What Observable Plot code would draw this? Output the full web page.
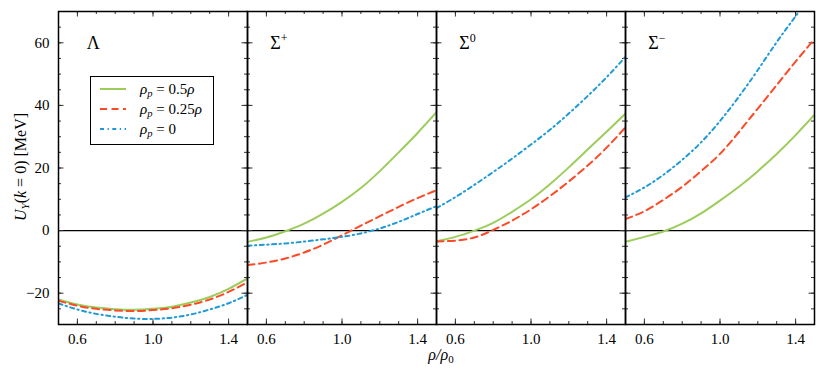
<!DOCTYPE html>
<html>
<head>
<meta charset="utf-8">
<script src="https://cdn.jsdelivr.net/npm/d3@7"></script>
<script src="https://cdn.jsdelivr.net/npm/@observablehq/plot@0.6"></script>
<style>
  body { margin: 0; background: #fff; }
  #wrap { position: relative; width: 830px; height: 369px; font-family: 'Liberation Serif'; }
  #wrap svg text { font-family: 'Liberation Serif' !important; }
  #legend { position: absolute; left: 90px; top: 76px; width: 122px; height: 67px; border: 1.3px solid #000; background: #fff; font-family: 'Liberation Serif'; }
  #legend .row { position: absolute; left: 0; height: 20px; font-size: 15px; line-height: 20px; }
  #legend svg { position: absolute; left: 9px; top: 0; }
  #legend span { position: absolute; left: 49px; white-space: nowrap; }
  sub { font-size: 70%; vertical-align: -3px; line-height: 0; }
</style>
</head>
<body>
<div id="wrap"></div>
<script>
// ---- data ----
const xs = [0.5, 0.6, 0.7, 0.8, 0.9, 1.0, 1.1, 1.2, 1.3, 1.4, 1.5];
const panels = ["Λ", "Σ+", "Σ0", "Σ−"];
const seriesNames = ["0.5", "0.25", "0"];

const lambdaHalf    = [-22.0, -23.6, -24.6, -25.1, -25.3, -25.0, -24.3, -23.0, -21.2, -18.6, -15.3];
const lambdaQuarter = [-22.4, -24.0, -25.0, -25.5, -25.7, -25.4, -24.8, -23.7, -22.0, -19.6, -16.5];
const lambdaZero    = [-23.3, -25.2, -26.6, -27.5, -28.1, -28.2, -27.8, -26.8, -25.2, -23.2, -20.5];

const sigPlusHalf    = [-3.6, -2.2, -0.2, 2.2, 5.4, 9.2, 13.6, 19.0, 25.0, 31.2, 37.8];
const sigPlusQuarter = [-11.0, -10.2, -8.9, -7.0, -4.5, -1.5, 1.6, 4.6, 7.6, 10.4, 12.9];
const sigPlusZero    = [-4.8, -4.5, -4.1, -3.5, -2.8, -2.0, -0.9, 0.7, 2.8, 5.3, 7.8];

const sigZeroHalf    = [-3.4, -2.0, 0.0, 2.5, 6.0, 10.0, 14.8, 20.2, 25.9, 31.6, 37.4];
const sigZeroQuarter = [-3.5, -3.2, -2.2, 0.2, 3.2, 6.8, 11.0, 15.7, 20.8, 26.5, 33.0];
const sigZeroZero    = [7.2, 10.7, 14.6, 18.7, 23.0, 27.5, 32.2, 37.4, 43.0, 49.0, 55.5];

const sigMinusHalf    = [-3.6, -2.0, -0.3, 2.2, 5.5, 9.6, 14.0, 19.0, 24.5, 30.5, 37.0];
const sigMinusQuarter = [3.7, 6.2, 9.8, 14.0, 19.0, 24.5, 31.5, 39.0, 46.5, 54.0, 61.2];
const sigMinusZero    = [10.6, 13.8, 17.8, 22.6, 28.2, 35.0, 42.8, 51.3, 60.2, 68.5, 77.0];

const xMajor = [0.6, 1.0, 1.4];
const xMinor = [0.5, 0.6, 0.7, 0.8, 0.9, 1.0, 1.1, 1.2, 1.3, 1.4, 1.5];
const yMajor = [-20, 0, 20, 40, 60];
const yMinor = [-30, -25, -20, -15, -10, -5, 0, 5, 10, 15, 20, 25, 30, 35, 40, 45, 50, 55, 60, 65, 70];

const table = [
  [lambdaHalf, lambdaQuarter, lambdaZero],
  [sigPlusHalf, sigPlusQuarter, sigPlusZero],
  [sigZeroHalf, sigZeroQuarter, sigZeroZero],
  [sigMinusHalf, sigMinusQuarter, sigMinusZero]
];
const rows = [];
table.forEach((sets, pi) => sets.forEach((vals, si) => vals.forEach((v, i) =>
  rows.push({panel: panels[pi], series: seriesNames[si], x: xs[i], y: v}))));

const styles = {
  "0.5":  {stroke: "#9ccd5c", dash: null},
  "0.25": {stroke: "#fb4a26", dash: "7,4.5"},
  "0":    {stroke: "#1f9ad6", dash: "4,3.5,1.3,3.5"}
};

const FONT = "Liberation Serif";
const xMin = 0.5, xMax = 1.5, yMin = -30, yMax = 70;
const tkX = (xMax - xMin) / 189, tkY = (yMax - yMin) / 313; // one pixel in data units

const tickColor = "#333";
const marks = [
  Plot.ruleY([0], {stroke: "#000", strokeWidth: 1.3}),
  // minor ticks
  Plot.ruleX(xMinor, {x: d => d, y1: yMin, y2: yMin + 3 * tkY, stroke: tickColor}),
  Plot.ruleX(xMinor, {x: d => d, y1: yMax, y2: yMax - 3 * tkY, stroke: tickColor}),
  Plot.ruleY(yMinor, {y: d => d, x1: xMin, x2: xMin + 3 * tkX, stroke: tickColor}),
  Plot.ruleY(yMinor, {y: d => d, x1: xMax, x2: xMax - 3 * tkX, stroke: tickColor}),
  // major ticks
  Plot.ruleX(xMajor, {x: d => d, y1: yMin, y2: yMin + 5.5 * tkY, stroke: tickColor}),
  Plot.ruleX(xMajor, {x: d => d, y1: yMax, y2: yMax - 5.5 * tkY, stroke: tickColor}),
  Plot.ruleY(yMajor, {y: d => d, x1: xMin, x2: xMin + 5.5 * tkX, stroke: tickColor}),
  Plot.ruleY(yMajor, {y: d => d, x1: xMax, x2: xMax - 5.5 * tkX, stroke: tickColor}),
  ...seriesNames.map(s => Plot.line(rows.filter(d => d.series === s), {
    x: "x", y: "y", fx: "panel", z: "panel",
    stroke: styles[s].stroke, strokeWidth: 2, strokeDasharray: styles[s].dash,
    curve: "natural", clip: true
  })),
  Plot.text(panels, {fx: d => d, x: d => d === "Λ" ? 0.65 : 0.62, y: 60, text: d => d,
    textAnchor: "start", fontSize: 18, fontFamily: FONT, fill: "#000", className: "panel-label"}),
  Plot.frame({stroke: "#000", strokeWidth: 1.5}),
  Plot.axisX(xMajor, {tickSize: 0, tickPadding: 9, tickFormat: d3.format(".1f"),
    fontSize: 15, fontFamily: FONT, label: null}),
  Plot.axisY(yMajor, {tickSize: 0, tickPadding: 9, tickFormat: d3.format(""),
    fontSize: 15, fontFamily: FONT, label: null})
];

const chart = Plot.plot({
  width: 830, height: 369,
  marginLeft: 58, marginRight: 16, marginTop: 11, marginBottom: 45,
  fx: {domain: panels, paddingInner: 0, paddingOuter: 0, axis: null, label: null},
  x: {domain: [xMin, xMax], axis: null},
  y: {domain: [yMin, yMax], axis: null},
  style: {fontFamily: FONT, fontSize: "15px", color: "#000", background: "#fff"},
  marks
});
document.getElementById("wrap").appendChild(chart);

const svg = d3.select(chart);
// superscripts on the Σ labels
svg.selectAll(".panel-label text").each(function() {
  const t = d3.select(this);
  const s = t.text();
  if (s.length === 2) {
    t.text(s[0]);
    t.append("tspan").attr("font-size", 12).attr("dy", -7).text(s[1]);
  }
});

// axis titles
const yl = svg.append("text")
  .attr("transform", "translate(26,167) rotate(-90)")
  .attr("text-anchor", "middle")
  .attr("font-family", FONT).attr("font-size", 16).attr("fill", "#000");
yl.append("tspan").attr("font-style", "italic").text("U");
yl.append("tspan").attr("font-style", "italic").attr("font-size", 11).attr("dy", 3).text("Y");
yl.append("tspan").attr("dy", -3).text("(");
yl.append("tspan").attr("font-style", "italic").text("k");
yl.append("tspan").text(" = 0) [MeV]");

const xl = svg.append("text")
  .attr("x", 441).attr("y", 360)
  .attr("text-anchor", "middle")
  .attr("font-family", FONT).attr("font-size", 16).attr("fill", "#000");
xl.append("tspan").attr("font-style", "italic").text("ρ/ρ");
xl.append("tspan").attr("font-size", 11).attr("dy", 3).text("0");

// legend
const legend = document.createElement("div");
legend.id = "legend";
const labels = ["0.5<i>ρ</i>", "0.25<i>ρ</i>", "0"];
seriesNames.forEach((s, i) => {
  const row = document.createElement("div");
  row.className = "row";
  row.style.top = (2 + i * 20) + "px";
  row.style.width = "122px";
  const st = styles[s];
  row.innerHTML = `<svg width="26" height="20"><line x1="0" x2="26" y1="10" y2="10" stroke="${st.stroke}" stroke-width="2" ${st.dash ? `stroke-dasharray="${st.dash}"` : ""}/></svg>` +
    `<span><i>ρ</i><sub><i>p</i></sub> = ${labels[i]}</span>`;
  legend.appendChild(row);
});
document.getElementById("wrap").appendChild(legend);
</script>
</body>
</html>
